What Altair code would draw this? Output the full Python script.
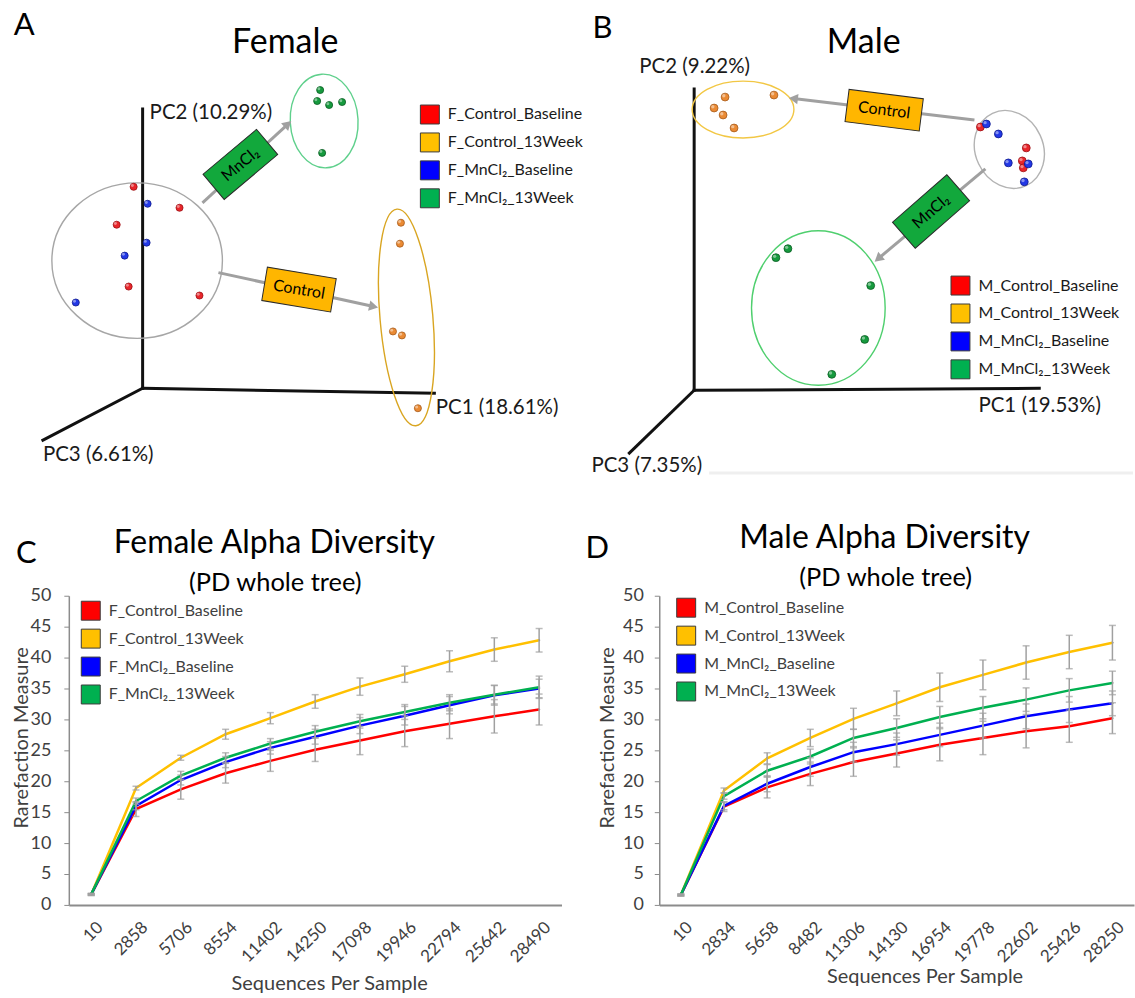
import math
import altair as alt
import pandas as pd

FONT = "Lato"
INK = "#1a1a1a"
LABEL_INK = "#404040"
AXIS_GREY = "#8c8c8c"
ERR_GREY = "#a0a0a0"

SERIES_COLORS = ["#ff0000", "#ffc000", "#0000ff", "#00b050"]
F_GROUPS = ["F_Control_Baseline", "F_Control_13Week", "F_MnCl\u2082_Baseline", "F_MnCl\u2082_13Week"]
M_GROUPS = ["M_Control_Baseline", "M_Control_13Week", "M_MnCl\u2082_Baseline", "M_MnCl\u2082_13Week"]

DOT_FILL = ["#e8262b", "#ea8a34", "#2238e6", "#169a3e"]
DOT_EDGE = ["#9c1014", "#a65a1a", "#101c8c", "#0a5c22"]

# Top row canvas (projected coordinates of the two 3-D PCoA plots)
TOP_X0, TOP_X1, TOP_H = 68, 1135, 515
B_SHIFT = 565  # panel B sits to the right of panel A

# ---------------- Panel A : female PCoA ----------------
A_CB_X = [133, 179, 116, 128, 199]
A_CB_Y = [329, 308, 291, 229, 220]
A_C13_X = [401, 400, 393, 402, 418]
A_C13_Y = [293, 272, 184, 180, 107]
A_MB_X = [147, 146, 124, 75]
A_MB_Y = [312, 273, 260, 213]
A_M13_X = [320, 317, 329, 342, 322]
A_M13_Y = [426, 415, 411, 414, 363]

A_ORIGIN = (142, 127)
A_AXIS_END_X = [434.5, 142, 42]
A_AXIS_END_Y = [122, 407, 75]
A_AXIS_LABELS = ["PC1 (18.61%)", "PC2 (10.29%)", "PC3 (6.61%)"]
A_AXIS_LAB_X = [436, 149, 42]
A_AXIS_LAB_Y = [101, 397, 54]

A_ELL_CX = [136.5, 324, 406.5]
A_ELL_CY = [255, 395, 198]
A_ELL_RX = [85.5, 34, 26.5]
A_ELL_RY = [78, 47, 109]
A_ELL_ANG = [0, 357, 355]
A_ELL_COL = ["#a6a6a6", "#5fd08c", "#d9a521"]

A_ARR_X0 = [202, 218]
A_ARR_Y0 = [313, 243]
A_ARR_X1 = [291, 378]
A_ARR_Y1 = [395, 208]

A_BOX_TEXT = ["MnCl\u2082", "Control"]
A_BOX_CX = [240, 298.8]
A_BOX_CY = [351.5, 226]
A_BOX_L = [70, 70]
A_BOX_S = [33, 34]
A_BOX_ANG = [320, 9.5]
A_BOX_FILL = ["#12a83c", "#ffb600"]

# ---------------- Panel B : male PCoA (local coordinates) ----------------
B_CB_X = [417, 463, 459, 460]
B_CB_Y = [389, 368, 355, 348]
B_C13_X = [161, 210, 150, 159, 170]
B_C13_Y = [419, 421, 408, 401, 388]
B_MB_X = [423, 435, 445, 465, 461]
B_MB_Y = [392, 382, 353, 352, 334]
B_M13_X = [212, 224, 307, 301, 268]
B_M13_Y = [258, 267, 230, 176, 141]

B_ORIGIN = (130, 125)
B_AXIS_END_X = [476, 130, 65]
B_AXIS_END_Y = [127, 427, 62]
B_AXIS_LABELS = ["PC1 (19.53%)", "PC2 (9.22%)", "PC3 (7.35%)"]
B_AXIS_LAB_X = [415, 75, 27]
B_AXIS_LAB_Y = [103, 443, 43]

B_ELL_CX = [179, 446, 254.5]
B_ELL_CY = [406.5, 366.5, 207.5]
B_ELL_RX = [51, 34, 67]
B_ELL_RY = [28.5, 40, 77.5]
B_ELL_ANG = [0, 335, 0]
B_ELL_COL = ["#f2c744", "#b3b3b3", "#4fcf6e"]

B_ARR_X0 = [411, 422]
B_ARR_Y0 = [396, 347]
B_ARR_X1 = [225, 311]
B_ARR_Y1 = [418, 254]

B_BOX_TEXT = ["Control", "MnCl\u2082"]
B_BOX_CX = [320.5, 367.5]
B_BOX_CY = [405.8, 304.25]
B_BOX_L = [75, 72.4]
B_BOX_S = [32.6, 34.6]
B_BOX_ANG = [7.2, 318.8]
B_BOX_FILL = ["#ffb600", "#12a83c"]

B_FAINT_X = [145]
B_FAINT_X2 = [570]
B_FAINT_Y = [42]

# ---------------- Panel C : female alpha diversity ----------------
SEQ_F = ["10", "2858", "5706", "8554", "11402", "14250", "17098", "19946", "22794", "25642", "28490"]
F_CTRL_BASE = [1.7, 15.5, 18.7, 21.3, 23.3, 25.1, 26.6, 28.1, 29.3, 30.5, 31.6]
F_CTRL_13 = [1.7, 18.9, 23.8, 27.6, 30.2, 32.9, 35.3, 37.3, 39.4, 41.3, 42.8]
F_MN_BASE = [1.7, 16.0, 20.2, 23.1, 25.4, 27.2, 29.0, 30.6, 32.3, 33.9, 35.0]
F_MN_13 = [1.7, 16.8, 20.9, 23.8, 26.1, 28.0, 29.7, 31.2, 32.7, 34.0, 35.2]
F_CTRL_BASE_ERR = [0.2, 1.2, 1.6, 1.6, 1.7, 1.9, 2.3, 2.5, 2.4, 2.7, 2.5]
F_CTRL_13_ERR = [0.1, 0.3, 0.4, 0.8, 0.9, 1.1, 1.4, 1.3, 1.7, 1.9, 1.9]
F_MN_BASE_ERR = [0.1, 0.6, 0.8, 0.9, 1.0, 1.2, 1.3, 1.5, 1.4, 1.6, 1.5]
F_MN_13_ERR = [0.1, 0.5, 0.7, 0.8, 0.8, 1.0, 1.1, 1.2, 1.3, 1.5, 1.8]

# ---------------- Panel D : male alpha diversity ----------------
SEQ_M = ["10", "2834", "5658", "8482", "11306", "14130", "16954", "19778", "22602", "25426", "28250"]
M_CTRL_BASE = [1.6, 15.9, 19.0, 21.2, 23.1, 24.5, 25.9, 27.0, 28.1, 28.9, 30.2]
M_CTRL_13 = [1.6, 18.5, 23.7, 27.0, 30.1, 32.6, 35.2, 37.2, 39.2, 40.9, 42.4]
M_MN_BASE = [1.6, 16.0, 19.6, 22.3, 24.7, 26.0, 27.5, 29.0, 30.5, 31.6, 32.6]
M_MN_13 = [1.6, 17.6, 21.7, 24.0, 27.0, 28.6, 30.4, 31.9, 33.2, 34.7, 35.9]
M_CTRL_BASE_ERR = [0.2, 0.8, 1.7, 1.9, 2.3, 2.2, 2.6, 2.7, 2.7, 2.6, 2.5]
M_CTRL_13_ERR = [0.1, 0.4, 0.9, 1.4, 1.7, 2.0, 2.3, 2.4, 2.7, 2.7, 2.8]
M_MN_BASE_ERR = [0.1, 0.6, 1.3, 1.5, 1.6, 1.8, 1.9, 2.0, 2.0, 2.1, 2.0]
M_MN_13_ERR = [0.1, 0.5, 1.0, 1.2, 1.4, 1.5, 1.7, 1.8, 1.9, 1.9, 1.9]

Y_TICKS = [0, 5, 10, 15, 20, 25, 30, 35, 40, 45, 50]
NO_FRAME = alt.ViewBackground(stroke="transparent", strokeWidth=0, strokeOpacity=0)


def fmt(v):
    return f"{v:.4f}"


def ellipse_shape(rx, ry):
    m = max(rx, ry)
    a, b, k = rx / m, ry / m, 0.5523
    p = (f"M {fmt(a)} 0 C {fmt(a)} {fmt(k*b)} {fmt(k*a)} {fmt(b)} 0 {fmt(b)} "
         f"C {fmt(-k*a)} {fmt(b)} {fmt(-a)} {fmt(k*b)} {fmt(-a)} 0 "
         f"C {fmt(-a)} {fmt(-k*b)} {fmt(-k*a)} {fmt(-b)} 0 {fmt(-b)} "
         f"C {fmt(k*a)} {fmt(-b)} {fmt(a)} {fmt(-k*b)} {fmt(a)} 0 Z")
    return p, (2 * m) ** 2


def box_shape(length, short):
    h = short / length
    return f"M -1 {fmt(-h)} L 1 {fmt(-h)} L 1 {fmt(h)} L -1 {fmt(h)} Z", length ** 2


def square_legend(lx, ly, color):
    return alt.Legend(title=None, orient="none", legendX=lx, legendY=ly, direction="vertical",
                      symbolType="square", symbolSize=361, symbolStrokeColor="#3a3a3a",
                      symbolStrokeWidth=1, labelFontSize=16, labelFont=FONT, labelColor=color,
                      labelOffset=8, rowPadding=4, padding=0, labelLimit=400)


X_TOP = alt.X("x:Q", scale=alt.Scale(domain=[TOP_X0, TOP_X1], nice=False, zero=False), axis=None)
Y_TOP = alt.Y("y:Q", scale=alt.Scale(domain=[0, TOP_H], nice=False, zero=False), axis=None)
X2_TOP = alt.X2("x2:Q")
Y2_TOP = alt.Y2("y2:Q")


def pcoa_layers(ox, pts_xy, origin, ax_ex, ax_ey, ax_lab, ax_lx, ax_ly, ell, arrows, boxes,
                letter, letter_xy, title, title_xy, groups, gfield, legend_xy, dot_size, faint=None):
    X, Y, X2, Y2 = X_TOP, Y_TOP, X2_TOP, Y2_TOP
    sx = lambda seq: [v + ox for v in seq]
    layers = []

    if faint is not None:
        fdf = pd.DataFrame({"x": sx(faint[0]), "x2": sx(faint[1]), "y": faint[2]})
        layers.append(alt.Chart(fdf).mark_rule(color="#efefef", strokeWidth=3).encode(X, X2, Y))

    adf = pd.DataFrame({"x": [origin[0] + ox] * 3, "y": [origin[1]] * 3, "x2": sx(ax_ex), "y2": ax_ey})
    layers.append(alt.Chart(adf).mark_rule(color="#111111", strokeWidth=3, strokeCap="square")
                  .encode(X, Y, X2, Y2))

    cx, cy, rx, ry, ang, col = ell
    shapes = [ellipse_shape(a, b) for a, b in zip(rx, ry)]
    edf = pd.DataFrame({"x": sx(cx), "y": cy, "path": [s[0] for s in shapes],
                        "size": [s[1] for s in shapes], "ang": ang, "col": col})
    layers.append(alt.Chart(edf).mark_point(filled=False, strokeWidth=1.4, opacity=1).encode(
        X, Y, shape=alt.Shape("path:N", scale=None), size=alt.Size("size:Q", scale=None),
        angle=alt.Angle("ang:Q", scale=None), color=alt.Color("col:N", scale=None)))

    ax0, ay0, ax1, ay1 = arrows
    sh, hd = [], []
    for a0, b0, a1, b1 in zip(sx(ax0), ay0, sx(ax1), ay1):
        dx, dy = a1 - a0, b1 - b0
        L = math.hypot(dx, dy)
        ux, uy = dx / L, dy / L
        hx, hy = a1 - 4.5 * ux, b1 - 4.5 * uy
        sh.append({"x": a0, "y": b0, "x2": hx, "y2": hy})
        hd.append({"x": hx, "y": hy, "ang": math.degrees(math.atan2(dx, dy)) % 360})
    layers.append(alt.Chart(pd.DataFrame(sh)).mark_rule(color="#a0a0a0", strokeWidth=3)
                  .encode(X, Y, X2, Y2))
    layers.append(alt.Chart(pd.DataFrame(hd)).mark_point(filled=True, shape="triangle-up", size=110,
                                                         color="#a0a0a0", opacity=1)
                  .encode(X, Y, angle=alt.Angle("ang:Q", scale=None)))

    btxt, bcx, bcy, bl, bs, bang, bfill = boxes
    bshapes = [box_shape(l, s) for l, s in zip(bl, bs)]
    bdf = pd.DataFrame({"x": sx(bcx), "y": bcy, "path": [s[0] for s in bshapes],
                        "size": [s[1] for s in bshapes], "ang": bang, "col": bfill, "t": btxt})
    layers.append(alt.Chart(bdf).mark_point(filled=True, opacity=1, stroke="#2a2a2a", strokeWidth=1)
                  .encode(X, Y, shape=alt.Shape("path:N", scale=None),
                          size=alt.Size("size:Q", scale=None),
                          angle=alt.Angle("ang:Q", scale=None),
                          color=alt.Color("col:N", scale=None)))
    layers.append(alt.Chart(bdf).mark_text(font=FONT, fontSize=16, color="#000000")
                  .encode(X, Y, text="t:N", angle=alt.Angle("ang:Q", scale=None)))

    rows = []
    for gi, (xs, ys) in enumerate(pts_xy):
        for xv, yv in zip(xs, ys):
            rows.append({"x": xv + ox, "y": yv, gfield: groups[gi], "fill": DOT_FILL[gi], "edge": DOT_EDGE[gi]})
    pdf = pd.DataFrame(rows)
    layers.append(alt.Chart(pdf).mark_square(filled=True, size=1, opacity=1, stroke="#3a3a3a", strokeWidth=1)
                  .encode(X, Y, color=alt.Color(f"{gfield}:N",
                                                scale=alt.Scale(domain=groups, range=SERIES_COLORS),
                                                legend=square_legend(legend_xy[0], legend_xy[1], INK))))
    layers.append(alt.Chart(pdf).mark_circle(size=dot_size, opacity=1, strokeWidth=0.8)
                  .encode(X, Y, fill=alt.Fill("fill:N", scale=None), stroke=alt.Stroke("edge:N", scale=None)))
    layers.append(alt.Chart(pdf).mark_circle(size=dot_size * 0.18, opacity=0.45, color="white",
                                             xOffset=-1.3, yOffset=-1.3)
                  .encode(X, Y))

    ldf = pd.DataFrame({"x": sx(ax_lx), "y": ax_ly, "t": ax_lab})
    layers.append(alt.Chart(ldf).mark_text(align="left", baseline="alphabetic", font=FONT, fontSize=20.5,
                                           color=INK).encode(X, Y, text="t:N"))
    layers.append(alt.Chart(pd.DataFrame({"x": [letter_xy[0] + ox], "y": [letter_xy[1]], "t": [letter]}))
                  .mark_text(align="left", baseline="alphabetic", font=FONT, fontSize=31, color="#000000")
                  .encode(X, Y, text="t:N"))
    layers.append(alt.Chart(pd.DataFrame({"x": [title_xy[0] + ox], "y": [title_xy[1]], "t": [title]}))
                  .mark_text(align="center", baseline="alphabetic", font=FONT, fontSize=34, color="#000000")
                  .encode(X, Y, text="t:N"))
    return layers


def alpha_panel(seqs, groups, series, errors, title, title_xy, sub_xy, letter, letter_xy, width,
                spacer_xy, legend_xy, ytitle_xy, xtitle_xy, ylabel_pad):
    H = 310
    rows = []
    for g, vals, errs in zip(groups, series, errors):
        for i, (s, v, e) in enumerate(zip(seqs, vals, errs)):
            rows.append({"seq": s, "i": i, "grp": g, "v": v, "lo": v - e, "hi": v + e})
    df = pd.DataFrame(rows)

    X = alt.X("seq:O", scale=alt.Scale(domain=seqs, type="point", padding=0.5),
              axis=alt.Axis(title="Sequences Per Sample", titleFontSize=20, titleFont=FONT,
                            titleFontWeight="normal", titleColor=LABEL_INK, titleX=xtitle_xy[0],
                            titleY=xtitle_xy[1], titleAlign="center", titleBaseline="alphabetic",
                            labelAngle=-45, labelFontSize=17, labelColor=LABEL_INK, labelFont=FONT,
                            labelPadding=14, labelOffset=3, ticks=False, domainColor=AXIS_GREY,
                            domainWidth=2, grid=False, labelOverlap=False))

    def mkY(field):
        return alt.Y(f"{field}:Q", scale=alt.Scale(domain=[0, 50], nice=False),
                     axis=alt.Axis(values=Y_TICKS, title="Rarefaction Measure", titleFontSize=20,
                                   titleFont=FONT, titleColor=LABEL_INK, titleFontWeight="normal",
                                   titleX=ytitle_xy[0], titleY=ytitle_xy[1], titleAngle=270,
                                   titleAlign="center", titleBaseline="middle", labelFontSize=18,
                                   labelFont=FONT, labelColor=LABEL_INK, labelPadding=ylabel_pad,
                                   tickSize=5, tickColor=AXIS_GREY, domainColor=AXIS_GREY,
                                   domainWidth=1.5, grid=False))

    one = pd.DataFrame({"a": [0]})
    layers = []
    layers.append(alt.Chart(one).mark_rule(color="white", strokeWidth=1)
                  .encode(x=alt.value(spacer_xy[0]), x2=alt.value(spacer_xy[0] + 6), y=alt.value(spacer_xy[1])))
    layers.append(alt.Chart(df).mark_square(filled=True, size=1, opacity=1, stroke="#3a3a3a", strokeWidth=1)
                  .encode(X, mkY("v"), color=alt.Color("grp:N", scale=alt.Scale(domain=groups, range=SERIES_COLORS),
                                                        legend=square_legend(legend_xy[0], legend_xy[1], LABEL_INK))))
    for g, c in zip(groups, SERIES_COLORS):
        layers.append(alt.Chart(df[df.grp == g]).mark_line(color=c, strokeWidth=2.5)
                      .encode(X, mkY("v"), order=alt.Order("i:Q")))
    layers.append(alt.Chart(df).mark_rule(color=ERR_GREY, strokeWidth=1.5)
                  .encode(X, mkY("lo"), alt.Y2("hi:Q")))
    layers.append(alt.Chart(df).mark_tick(color=ERR_GREY, thickness=1.5, size=7).encode(X, mkY("lo")))
    layers.append(alt.Chart(df).mark_tick(color=ERR_GREY, thickness=1.5, size=7).encode(X, mkY("hi")))
    layers.append(alt.Chart(pd.DataFrame({"t": [letter]}))
                  .mark_text(align="left", baseline="alphabetic", font=FONT, fontSize=31, color="#000000")
                  .encode(x=alt.value(letter_xy[0]), y=alt.value(letter_xy[1]), text="t:N"))
    layers.append(alt.Chart(pd.DataFrame({"t": [title]}))
                  .mark_text(align="center", baseline="alphabetic", font=FONT, fontSize=32, color="#000000")
                  .encode(x=alt.value(title_xy[0]), y=alt.value(title_xy[1]), text="t:N"))
    layers.append(alt.Chart(pd.DataFrame({"t": ["(PD whole tree)"]}))
                  .mark_text(align="center", baseline="alphabetic", font=FONT, fontSize=25.5, color="#000000")
                  .encode(x=alt.value(sub_xy[0]), y=alt.value(sub_xy[1]), text="t:N"))
    return alt.layer(*layers).properties(width=width, height=H, view=NO_FRAME)


# ---- top row: both PCoA panels on one canvas ----
spacer_top = alt.Chart(pd.DataFrame({"x": [0], "x2": [6], "y": [TOP_H - 1]})).mark_rule(
    color="white", strokeWidth=1).encode(X_TOP, X2_TOP, Y_TOP)

layers_a = pcoa_layers(
    0, [(A_CB_X, A_CB_Y), (A_C13_X, A_C13_Y), (A_MB_X, A_MB_Y), (A_M13_X, A_M13_Y)],
    A_ORIGIN, A_AXIS_END_X, A_AXIS_END_Y, A_AXIS_LABELS, A_AXIS_LAB_X, A_AXIS_LAB_Y,
    (A_ELL_CX, A_ELL_CY, A_ELL_RX, A_ELL_RY, A_ELL_ANG, A_ELL_COL),
    (A_ARR_X0, A_ARR_Y0, A_ARR_X1, A_ARR_Y1),
    (A_BOX_TEXT, A_BOX_CX, A_BOX_CY, A_BOX_L, A_BOX_S, A_BOX_ANG, A_BOX_FILL),
    "A", (12.7, 481), "Female", (285, 463), F_GROUPS, "fgrp", (420 - TOP_X0, 103.5), 50)

layers_b = pcoa_layers(
    B_SHIFT, [(B_CB_X, B_CB_Y), (B_C13_X, B_C13_Y), (B_MB_X, B_MB_Y), (B_M13_X, B_M13_Y)],
    B_ORIGIN, B_AXIS_END_X, B_AXIS_END_Y, B_AXIS_LABELS, B_AXIS_LAB_X, B_AXIS_LAB_Y,
    (B_ELL_CX, B_ELL_CY, B_ELL_RX, B_ELL_RY, B_ELL_ANG, B_ELL_COL),
    (B_ARR_X0, B_ARR_Y0, B_ARR_X1, B_ARR_Y1),
    (B_BOX_TEXT, B_BOX_CX, B_BOX_CY, B_BOX_L, B_BOX_S, B_BOX_ANG, B_BOX_FILL),
    "B", (28, 478), "Male", (300, 463), M_GROUPS, "mgrp", (952 - TOP_X0, 275), 62,
    faint=(B_FAINT_X, B_FAINT_X2, B_FAINT_Y))

top = (alt.layer(spacer_top, *layers_a, *layers_b)
       .resolve_scale(color="independent")
       .properties(width=TOP_X1 - TOP_X0, height=TOP_H, view=NO_FRAME))

# ---- bottom row: rarefaction curves; plot areas start at y = 515 + 80 ----
panel_c = alpha_panel(SEQ_F, F_GROUPS, [F_CTRL_BASE, F_CTRL_13, F_MN_BASE, F_MN_13],
                      [F_CTRL_BASE_ERR, F_CTRL_13_ERR, F_MN_BASE_ERR, F_MN_13_ERR],
                      "Female Alpha Diversity", (206, -43), (207, -5), "C", (-53, -33), 494,
                      (-68, -80), (12, 5), (-47, 142), (261, 85), 13)
panel_d = alpha_panel(SEQ_M, M_GROUPS, [M_CTRL_BASE, M_CTRL_13, M_MN_BASE, M_MN_13],
                      [M_CTRL_BASE_ERR, M_CTRL_13_ERR, M_MN_BASE_ERR, M_MN_13_ERR],
                      "Male Alpha Diversity", (226, -48), (227, -10), "D", (-74, -38), 476,
                      (-97, -60), (17, 2), (-52, 142), (266, 78), 11)

bottom = alt.hconcat(panel_c, panel_d, spacing=0).resolve_scale(x="independent", y="independent", color="independent")

chart = (alt.vconcat(top, bottom, spacing=0)
         .resolve_scale(x="independent", y="independent", color="independent")
         .properties(padding=0, background="white")
         .configure_view(stroke="transparent", strokeWidth=0)
         .configure(font=FONT))

chart.save("out.html", embed_options={"renderer": "svg", "actions": False})
